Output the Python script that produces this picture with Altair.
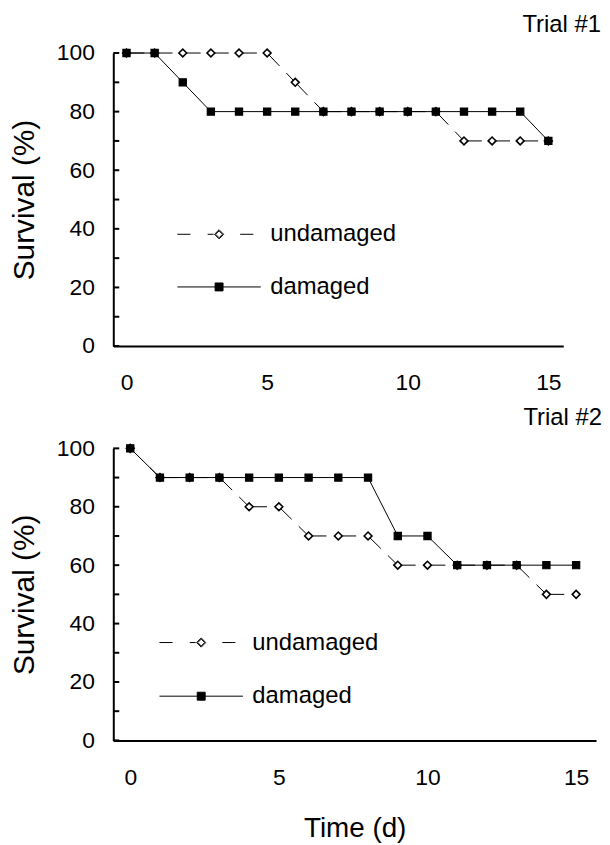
import altair as alt
import pandas as pd

FONT = "Liberation Sans"

days = [0, 1, 2, 3, 4, 5, 6, 7, 8, 9, 10, 11, 12, 13, 14, 15]
t1_undamaged = [100, 100, 100, 100, 100, 100, 90, 80, 80, 80, 80, 80, 70, 70, 70, 70]
t1_damaged = [100, 100, 90, 80, 80, 80, 80, 80, 80, 80, 80, 80, 80, 80, 80, 70]
t2_undamaged = [100, 90, 90, 90, 80, 80, 70, 70, 70, 60, 60, 60, 60, 60, 50, 50]
t2_damaged = [100, 90, 90, 90, 90, 90, 90, 90, 90, 70, 70, 60, 60, 60, 60, 60]
series_names = ["undamaged", "damaged"]
x_tick_values = [0, 5, 10, 15]
y_label_values = [0, 20, 40, 60, 80, 100]
y_tick_values = [0, 10, 20, 30, 40, 50, 60, 70, 80, 90, 100]

# legend symbols: a line sample with its marker (unit box -1..1)
U_PATH = ("M-1,0H-0.686M-0.274,0H-0.131M0.505,0H0.82"
          "M0,-0.11L0.11,0L0,0.11L-0.11,0Z"
          "M0,-0.083L0.083,0L0,0.083L-0.083,0Z")
D_PATH = "M-1,0H1M-0.095,-0.095H0.095V0.095H-0.095Z"

TICK_FS = 23
LEG_FS = 24


def make_legend(path, lx, ly):
    return alt.Legend(
        orient="none", legendX=lx, legendY=ly, title=None,
        direction="vertical", symbolSize=7056, symbolStrokeWidth=1,
        symbolStrokeColor="black", symbolOpacity=1, symbolType=path,
        symbolOffset=0, labelOffset=9, padding=0,
        labelFontSize=LEG_FS, labelFont=FONT, labelColor="black",
    )


def panel(und, dam, width, height, xdom, title, title_dx, title_offset,
          leg_x, leg_yu, leg_yd, xtitle):
    und_df = pd.DataFrame({"day": days, "survival": und,
                           "series": [series_names[0]] * len(days)})
    dam_df = pd.DataFrame({"day": days, "survival": dam,
                           "series": [series_names[1]] * len(days)})
    seg_rows = []
    for i in range(len(days) - 1):
        seg_rows.append({"seg": i, "day": days[i], "survival": und[i]})
        seg_rows.append({"seg": i, "day": days[i + 1], "survival": und[i + 1]})
    segs = pd.DataFrame(seg_rows)
    ticks = pd.DataFrame({"survival": y_tick_values})

    x_axis_kwargs = dict(
        values=x_tick_values, ticks=False, tickSize=0, labelPadding=26,
        grid=False, domainWidth=2, domainColor="black", labelFontSize=TICK_FS,
        labelFont=FONT, labelColor="black", labelFlush=False,
        titleFont=FONT, titleFontSize=28, titleFontWeight="normal",
        titleColor="black", titlePadding=26,
    )
    x_axis = alt.Axis(title=xtitle, **x_axis_kwargs) if xtitle else alt.Axis(title=None, **x_axis_kwargs)
    X = alt.X("day:Q", scale=alt.Scale(domain=xdom, nice=False, zero=False),
              axis=x_axis)
    Y = alt.Y("survival:Q", scale=alt.Scale(domain=[0, 100], nice=False),
              axis=alt.Axis(values=y_label_values, title="Survival (%)",
                            ticks=False, tickSize=0, labelPadding=19,
                            grid=False, domainWidth=2, domainColor="black",
                            labelFontSize=TICK_FS, labelFont=FONT,
                            labelColor="black", titleFont=FONT,
                            titleFontSize=30, titleFontWeight="normal",
                            titleColor="black", titlePadding=17))

    rule = alt.Chart(ticks).mark_rule(color="black", strokeWidth=2).encode(
        y=Y, x=alt.value(0), x2=alt.value(6))
    dashed = alt.Chart(segs).mark_line(
        color="black", strokeWidth=1, strokeDash=[18, 10]).encode(
        x=X, y=Y, detail="seg:N")
    solid = alt.Chart(dam_df).mark_line(color="black", strokeWidth=1).encode(
        x=X, y=Y)
    pts_u = alt.Chart(und_df).mark_point(
        shape="diamond", filled=True, size=62, stroke="black",
        strokeWidth=1.6, opacity=1).encode(
        x=X, y=Y,
        fill=alt.Fill("series:N",
                      scale=alt.Scale(domain=[series_names[0]], range=["white"]),
                      legend=make_legend(U_PATH, leg_x, leg_yu)),
    )
    pts_d = alt.Chart(dam_df).mark_point(
        shape="square", filled=True, size=52, stroke="black",
        strokeWidth=1.2, opacity=1).encode(
        x=X, y=Y,
        color=alt.Color("series:N",
                        scale=alt.Scale(domain=[series_names[1]], range=["black"]),
                        legend=make_legend(D_PATH, leg_x, leg_yd)),
    )
    return alt.layer(rule, dashed, solid, pts_u, pts_d).properties(
        width=width, height=height,
        title=alt.TitleParams(text=title, anchor="end", frame="group",
                              dx=title_dx, offset=title_offset, fontSize=24,
                              font=FONT, fontWeight="normal", color="black"),
    )


top = panel(t1_undamaged, t1_damaged, 453, 295, [-0.47, 15.53], "Trial #1",
            38, 5.5, 64, 140, 193, None)
bottom = panel(t2_undamaged, t2_damaged, 486, 294, [-0.57, 15.67], "Trial #2",
               6, 8, 46, 153, 207, "Time (d)")

chart = alt.vconcat(top, bottom, spacing=11).resolve_scale(
    x="independent", y="independent", fill="independent", color="independent"
).properties(
    padding={"left": 1, "top": 1.5, "right": 0, "bottom": 0}
).configure(font=FONT, view=alt.ViewConfig(stroke=None))

chart.save("out.html", embed_options={"renderer": "svg", "actions": False})
